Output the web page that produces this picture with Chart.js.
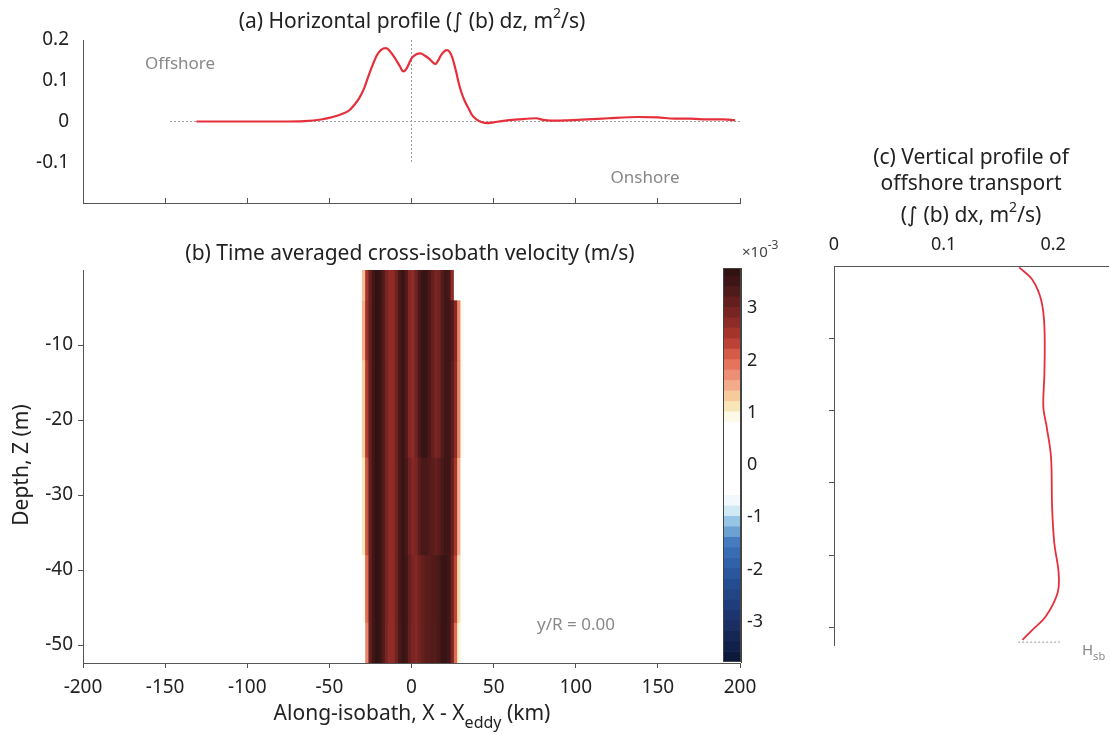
<!DOCTYPE html>
<html>
<head>
<meta charset="utf-8">
<script src="https://cdn.jsdelivr.net/npm/chart.js@4/dist/chart.umd.min.js"></script>
<style>
  body { margin: 0; background: #fff; width: 1110px; height: 734px; position: relative; overflow: hidden; }
  canvas { position: absolute; }
</style>
</head>
<body>
<canvas id="profileA" width="760" height="215" style="left:0px;top:0px"></canvas>
<canvas id="sectionB" width="790" height="504" style="left:0px;top:230px"></canvas>
<canvas id="colorBar" width="90" height="440" style="left:700px;top:240px"></canvas>
<canvas id="profileC" width="320" height="530" style="left:790px;top:140px"></canvas>
<script>
// (a) depth-integrated transport along the isobath
const alongX = [-131, -120, -100, -80, -65, -55, -48, -42, -38, -35, -32, -29, -26, -23.5, -21, -18.5, -15.6, -13, -10, -7, -5, -3, 0, 3, 5.5, 8, 10.5, 13, 14.5, 16, 18, 20, 21.5, 23, 25, 27, 28.6, 30.5, 32.7, 35, 37, 40, 43, 46, 50, 55, 65, 76, 80, 85, 95, 107, 120, 138, 150, 160, 170, 180, 190, 197];
const transportA = [0, 0, 0, 0, 0.001, 0.005, 0.011, 0.019, 0.027, 0.04, 0.056, 0.08, 0.114, 0.14, 0.163, 0.176, 0.18, 0.172, 0.155, 0.135, 0.123, 0.13, 0.155, 0.165, 0.167, 0.162, 0.155, 0.145, 0.141, 0.148, 0.163, 0.172, 0.175, 0.172, 0.155, 0.125, 0.097, 0.07, 0.048, 0.03, 0.015, 0.004, -0.002, -0.004, -0.002, 0.001, 0.005, 0.008, 0.004, 0.002, 0.003, 0.005, 0.008, 0.011, 0.01, 0.007, 0.007, 0.005, 0.005, 0.003];
const zeroLineX = [-147, 200];

// (b) time averaged cross-isobath velocity, x 1e-3 m/s
const cellX = [-33, -31, -29, -27, -25, -23, -21, -19, -17, -15, -13, -11, -9, -7, -5, -3, -1, 1, 3, 5, 7, 9, 11, 13, 15, 17, 19, 21, 23, 25, 27, 29, 31, 33];
const depthEdges = [0, -4, -12, -25, -38, -47, -52.4];
const velocity = [
  [0, 0.4, 1.4, 2.5, 3.1, 3.5, 3.7, 3.6, 3.3, 2.9, 2.7, 2.7, 3.0, 3.4, 3.6, 3.3, 2.8, 2.7, 3.0, 3.4, 3.6, 3.6, 3.4, 3.1, 2.9, 3.0, 3.3, 3.5, 3.4, 2.7, 0.5, 0, 0, 0],
  [0, 0.5, 1.5, 2.6, 3.1, 3.5, 3.7, 3.6, 3.3, 2.9, 2.7, 2.7, 3.0, 3.4, 3.6, 3.3, 2.8, 2.7, 3.0, 3.4, 3.6, 3.6, 3.4, 3.1, 2.9, 3.0, 3.3, 3.5, 3.5, 3.3, 2.8, 1.8, 0.9, 0.2],
  [0, 0.4, 1.3, 2.4, 3.1, 3.5, 3.7, 3.6, 3.3, 2.9, 2.7, 2.7, 3.0, 3.4, 3.6, 3.3, 2.8, 2.7, 3.0, 3.4, 3.6, 3.6, 3.4, 3.1, 2.9, 3.0, 3.3, 3.5, 3.5, 3.2, 2.7, 1.8, 0.9, 0.2],
  [0, 0.2, 1.1, 2.2, 3.1, 3.5, 3.7, 3.6, 3.3, 2.9, 2.7, 2.7, 3.0, 3.4, 3.6, 3.4, 3.0, 2.8, 2.9, 3.2, 3.4, 3.4, 3.3, 3.2, 3.1, 3.2, 3.4, 3.5, 3.5, 3.1, 2.5, 1.5, 0.6, 0],
  [0, 0.1, 0.9, 2.0, 3.1, 3.5, 3.7, 3.6, 3.3, 2.9, 2.7, 2.7, 3.0, 3.4, 3.6, 3.5, 3.1, 2.9, 2.8, 3.0, 3.1, 3.2, 3.2, 3.3, 3.3, 3.4, 3.6, 3.6, 3.5, 3.0, 2.3, 1.2, 0.4, 0],
  [0, 0, 0.6, 1.8, 3.1, 3.5, 3.7, 3.6, 3.3, 2.9, 2.7, 2.7, 3.0, 3.4, 3.6, 3.5, 3.1, 2.9, 2.8, 3.0, 3.1, 3.2, 3.2, 3.3, 3.3, 3.4, 3.6, 3.6, 3.5, 2.9, 2.0, 1.0, 0.2, 0]
];
const colorMin = -3.77, colorMax = 3.77, colorStep = 0.2;

// (c) along-isobath integrated transport by depth
const depthC = [-0.2, -1.9, -4.7, -8.4, -14.8, -19.5, -22.2, -26.4, -33.3, -38.3, -42.5, -45.2, -48.5, -50.3, -51.7];
const transportC = [0.169, 0.181, 0.189, 0.192, 0.192, 0.191, 0.194, 0.198, 0.199, 0.201, 0.205, 0.204, 0.193, 0.181, 0.172];
const hsbLineX = [0.168, 0.206];
const hsbDepth = -52;

const FONT = '"Noto Sans", "DejaVu Sans", sans-serif';
const INK = '#222';
const AXIS = '#555';
const RED = '#e5303c';
const TITLE = 21;

const cmap = [
  [-3.77, '#0b1633'], [-3.0, '#1b3068'], [-2.2, '#254f95'], [-1.5, '#3f76bb'],
  [-1.1, '#8ec0e3'], [-0.8, '#e6f4fa'], [-0.5, '#ffffff'], [0.85, '#ffffff'],
  [1.05, '#f8efc4'], [1.3, '#f7cf9e'], [1.6, '#f2a184'], [2.0, '#e26b54'],
  [2.4, '#b3392d'], [2.8, '#852825'], [3.2, '#5a1d1c'], [3.77, '#2a1012']
];
function hex(c) { return [1, 3, 5].map(i => parseInt(c.slice(i, i + 2), 16)); }
function colorFor(v) {
  if (v <= cmap[0][0]) return cmap[0][1];
  for (let i = 1; i < cmap.length; i++) {
    if (v <= cmap[i][0]) {
      const [v0, c0] = cmap[i - 1], [v1, c1] = cmap[i];
      const t = (v - v0) / (v1 - v0);
      const a = hex(c0), b = hex(c1);
      return 'rgb(' + a.map((x, k) => Math.round(x + (b[k] - x) * t)).join(',') + ')';
    }
  }
  return cmap[cmap.length - 1][1];
}

function drawRich(ctx, it) {
  const parts = typeof it.text === 'string' ? [{ t: it.text }] : it.text;
  const size = it.size || TITLE;
  ctx.save();
  ctx.translate(it.x, it.y);
  if (it.rotate) ctx.rotate(it.rotate);
  ctx.textBaseline = 'middle';
  ctx.textAlign = 'left';
  ctx.fillStyle = it.color || INK;
  const fonts = parts.map(p => (p.size || size) + 'px ' + FONT);
  let total = 0;
  const widths = parts.map((p, i) => { ctx.font = fonts[i]; const w = ctx.measureText(p.t).width; total += w; return w; });
  let x = it.align === 'left' ? 0 : it.align === 'right' ? -total : -total / 2;
  parts.forEach((p, i) => { ctx.font = fonts[i]; ctx.fillText(p.t, x, p.dy || 0); x += widths[i]; });
  ctx.restore();
}
function textPlugin(items) {
  return { id: 'texts', afterDraw(chart) { items.forEach(it => drawRich(chart.ctx, it)); } };
}
const frame = {
  id: 'frame',
  afterDraw(chart) {
    const a = chart.chartArea, ctx = chart.ctx;
    ctx.save(); ctx.strokeStyle = '#444'; ctx.lineWidth = 1;
    ctx.strokeRect(a.left + 0.5, a.top + 0.5, a.right - a.left - 1, a.bottom - a.top - 1);
    ctx.restore();
  }
};
const tickFont = { family: FONT, size: 19 };
const fmt1 = v => String(Number(v.toFixed(2)));
// fixed axis box, no label overflow padding
const fixWidth = w => s => { s.width = w; s.paddingTop = 0; s.paddingBottom = 0; };
const fixHeight = h => s => { s.height = h; s.paddingLeft = 0; s.paddingRight = 0; };

// ---------- (a) ----------
new Chart(document.getElementById('profileA'), {
  type: 'line',
  data: {
    datasets: [
      { data: alongX.map((x, i) => ({ x, y: transportA[i] })), borderColor: RED, borderWidth: 2.2, pointRadius: 0, cubicInterpolationMode: 'monotone' },
      { data: zeroLineX.map(x => ({ x, y: 0 })), borderColor: '#9a9a9a', borderWidth: 1, borderDash: [2, 2], pointRadius: 0 },
      { data: [{ x: 0, y: 0.2 }, { x: 0, y: -0.1 }], borderColor: '#9a9a9a', borderWidth: 1, borderDash: [2, 2], pointRadius: 0 }
    ]
  },
  options: {
    responsive: false, animation: false,
    layout: { padding: { left: 0, top: 40, right: 20, bottom: 0 } },
    plugins: { legend: { display: false }, tooltip: { enabled: false } },
    scales: {
      x: {
        type: 'linear', min: -200, max: 200,
        ticks: { stepSize: 50, callback: () => '' },
        grid: { drawOnChartArea: false, tickLength: -5, color: AXIS },
        border: { color: AXIS },
        afterFit: fixHeight(12)
      },
      y: {
        min: -0.2, max: 0.2,
        ticks: { stepSize: 0.1, color: INK, font: tickFont, padding: 14, callback: fmt1 },
        afterBuildTicks: s => { s.ticks = s.ticks.filter(t => t.value > -0.15); },
        grid: { drawOnChartArea: false, tickLength: 0, color: AXIS },
        border: { color: AXIS },
        afterFit: fixWidth(83)
      }
    }
  },
  plugins: [textPlugin([
    { text: [{ t: '(a) Horizontal profile (∫ (b) dz, m' }, { t: '2', size: 14, dy: -8 }, { t: '/s)' }], x: 412, y: 22 },
    { text: 'Offshore', x: 180, y: 64, size: 17, color: '#888' },
    { text: 'Onshore', x: 645, y: 178, size: 17, color: '#888' }
  ])]
});

// ---------- (b) ----------
// each band's bar reaches up to the surface; the band above is painted over it,
// so the visible part of every bar is its own depth band
const heatSets = velocity.map((row, r) => ({
  type: 'bar',
  grouped: false,
  data: cellX.map(x => ({ x, y: [depthEdges[0], depthEdges[r + 1]] })),
  backgroundColor: row.map(colorFor),
  borderWidth: 0,
  barPercentage: 1,
  categoryPercentage: 1
}));
new Chart(document.getElementById('sectionB'), {
  type: 'bar',
  data: { datasets: heatSets },
  options: {
    responsive: false, animation: false,
    layout: { padding: { left: 0, top: 40, right: 50, bottom: 0 } },
    plugins: { legend: { display: false }, tooltip: { enabled: false } },
    scales: {
      x: {
        type: 'linear', min: -200, max: 200, offset: false,
        ticks: { stepSize: 50, color: INK, font: tickFont, padding: 8 },
        grid: { drawOnChartArea: false, offset: false, tickLength: 5, color: AXIS },
        border: { color: AXIS },
        afterFit: fixHeight(71)
      },
      y: {
        min: -52.4, max: 0,
        ticks: { stepSize: 10, color: INK, font: tickFont, padding: 5, includeBounds: false },
        afterBuildTicks: s => { s.ticks = s.ticks.filter(t => t.value !== 0); },
        grid: { drawOnChartArea: false, tickLength: 5, color: AXIS },
        border: { color: AXIS },
        afterFit: fixWidth(83)
      }
    }
  },
  plugins: [textPlugin([
    { text: '(b) Time averaged cross-isobath velocity (m/s)', x: 410, y: 24 },
    { text: 'Depth, Z (m)', x: 22, y: 235, rotate: -Math.PI / 2 },
    { text: [{ t: 'Along-isobath, X - X' }, { t: 'eddy', size: 16, dy: 9 }, { t: ' (km)' }], x: 412, y: 484 },
    { text: 'y/R = 0.00', x: 576, y: 395, size: 17, color: '#888' }
  ])]
});

// ---------- colour bar ----------
const cbData = [];
for (let v = colorMin; v < colorMax - 1e-9; v += colorStep) {
  const hi = Math.min(v + colorStep, colorMax);
  cbData.push({ x: 'c', y: [v, hi], c: colorFor((v + hi) / 2) });
}
new Chart(document.getElementById('colorBar'), {
  type: 'bar',
  data: {
    labels: ['c'],
    datasets: [{ data: cbData, backgroundColor: cbData.map(d => d.c), borderWidth: 0, barPercentage: 1, categoryPercentage: 1, grouped: false }]
  },
  options: {
    responsive: false, animation: false,
    layout: { padding: { left: 23, top: 28, right: 0, bottom: 18 } },
    plugins: { legend: { display: false }, tooltip: { enabled: false } },
    scales: {
      x: { display: false },
      y: {
        position: 'right', min: colorMin, max: colorMax,
        ticks: { stepSize: 1, color: INK, font: { family: FONT, size: 18 }, padding: 12, includeBounds: false },
        grid: { drawOnChartArea: false, tickLength: -6, color: '#333' },
        border: { color: '#444' },
        afterFit: fixWidth(49)
      }
    }
  },
  plugins: [frame, textPlugin([
    { text: [{ t: '×10' }, { t: '-3', size: 12, dy: -7 }], x: 42, y: 13, size: 15, align: 'left', color: '#444' }
  ])]
});

// ---------- (c) ----------
new Chart(document.getElementById('profileC'), {
  type: 'scatter',
  data: {
    datasets: [
      { data: depthC.map((z, i) => ({ x: transportC[i], y: z })), showLine: true, borderColor: RED, borderWidth: 1.8, pointRadius: 0, tension: 0.35 },
      { data: hsbLineX.map(x => ({ x, y: hsbDepth })), showLine: true, borderColor: '#9a9a9a', borderWidth: 1, borderDash: [2, 2], pointRadius: 0 }
    ]
  },
  options: {
    responsive: false, animation: false,
    layout: { padding: { left: 0, top: 0, right: 2, bottom: 25 } },
    plugins: { legend: { display: false }, tooltip: { enabled: false } },
    scales: {
      x: {
        type: 'linear', position: 'top', min: 0, max: 0.25,
        ticks: { stepSize: 0.1, color: INK, font: { family: FONT, size: 18 }, padding: 10, includeBounds: false, callback: fmt1 },
        grid: { drawOnChartArea: false, drawTicks: false, color: AXIS },
        border: { color: AXIS },
        afterFit: fixHeight(126)
      },
      y: {
        type: 'linear', min: -52.4, max: 0,
        ticks: { stepSize: 10, includeBounds: false, callback: () => '' },
        afterBuildTicks: s => { s.ticks = s.ticks.filter(t => t.value !== 0); },
        grid: { drawOnChartArea: false, tickLength: 5, color: AXIS },
        border: { color: AXIS },
        afterFit: fixWidth(44)
      }
    }
  },
  plugins: [textPlugin([
    { text: '(c) Vertical profile of', x: 181, y: 18 },
    { text: 'offshore transport', x: 181, y: 44 },
    { text: [{ t: '(∫ (b) dx, m' }, { t: '2', size: 14, dy: -8 }, { t: '/s)' }], x: 181, y: 76 },
    { text: [{ t: 'H' }, { t: 'sb', size: 11, dy: 6 }], x: 292, y: 511, size: 15, align: 'left', color: '#888' }
  ])]
});
</script>
</body>
</html>
